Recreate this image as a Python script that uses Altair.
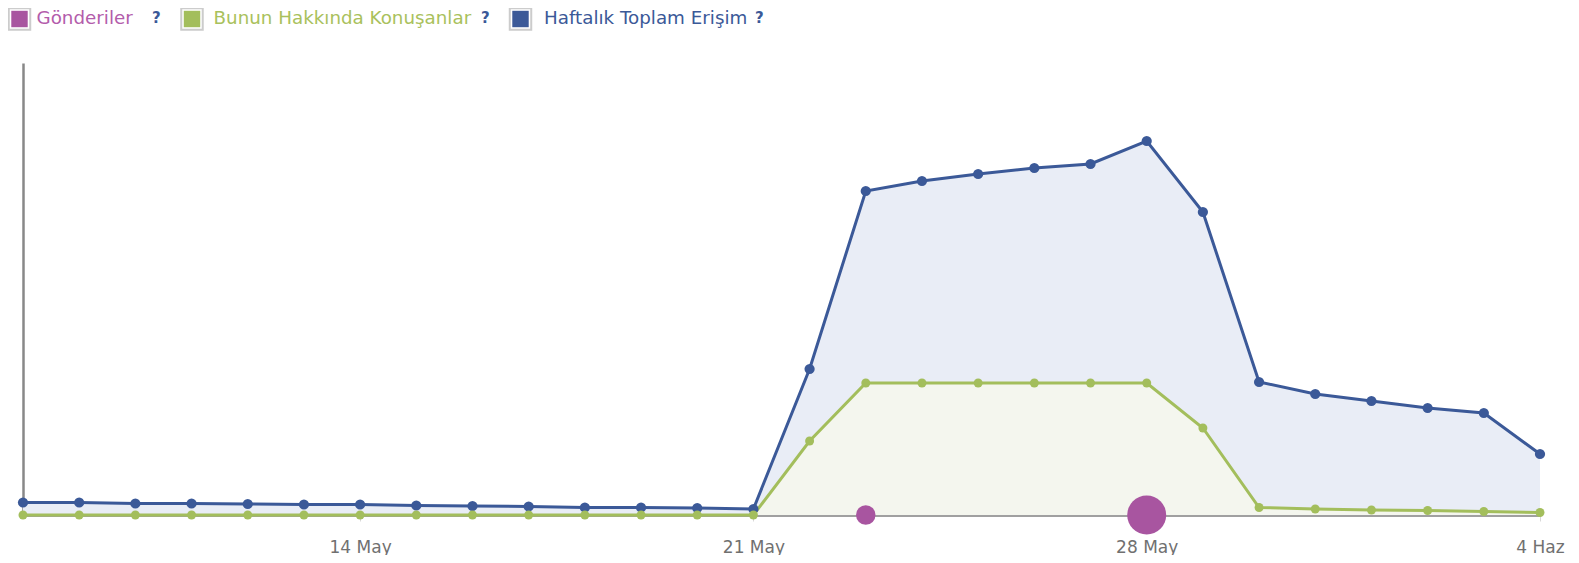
import altair as alt
import pandas as pd

# ---- data ----
dates = [
    "2012-05-08", "2012-05-09", "2012-05-10", "2012-05-11", "2012-05-12", "2012-05-13", "2012-05-14",
    "2012-05-15", "2012-05-16", "2012-05-17", "2012-05-18", "2012-05-19", "2012-05-20", "2012-05-21",
    "2012-05-22", "2012-05-23", "2012-05-24", "2012-05-25", "2012-05-26", "2012-05-27", "2012-05-28",
    "2012-05-29", "2012-05-30", "2012-05-31", "2012-06-01", "2012-06-02", "2012-06-03", "2012-06-04",
]
haftalik_erisim = [25, 25, 23, 23, 22, 21, 21, 19, 18, 17, 15, 15, 14, 12,
                   292, 648, 668, 682, 694, 702, 748, 606, 266, 242, 228, 214, 204, 122]
konusanlar = [0, 0, 0, 0, 0, 0, 0, 0, 0, 0, 0, 0, 0, 0,
              148, 264, 264, 264, 264, 264, 264, 174, 15, 12, 10, 9, 7, 5]
post_dates = ["2012-05-23", "2012-05-28"]
post_counts = [1, 4]

series_names = ["Gönderiler", "Bunun Hakkında Konuşanlar", "Haftalık Toplam Erişim"]
tick_dates = [(5, 14), (5, 21), (5, 28), (6, 4)]

PINK = "#a855a0"
GREEN = "#a3be5c"
BLUE = "#3b5998"
BLUE_FILL = "#e9edf6"
GREEN_FILL = "#f4f6ee"
FONT = "DejaVu Sans"

df = pd.DataFrame({"date": dates, "reach": haftalik_erisim, "talk": konusanlar})
posts = pd.DataFrame({"date": post_dates, "count": post_counts})

x_enc = alt.X(
    "date:T",
    scale=alt.Scale(
        type="utc",
        nice=False,
        domain=[alt.DateTime(year=2012, month=5, date=8, utc=True),
                alt.DateTime(year=2012, month=6, date=4, utc=True)],
    ),
    axis=alt.Axis(
        title=None,
        values=[alt.DateTime(year=2012, month=m, date=d, utc=True) for m, d in tick_dates],
        labelExpr="utcdate(datum.value) + ' ' + (utcmonth(datum.value) == 4 ? 'May' : 'Haz')",
        grid=False,
        domainColor="#a0a0a0",
        domainWidth=3,
        tickColor="#d8d8d8",
        tickSize=6,
        tickWidth=1,
        labelColor="#707070",
        labelFont=FONT,
        labelFontSize=17,
        labelPadding=18,
        labelFlush=False,
    ),
)

y_scale = alt.Scale(domain=[0, 904], nice=False, zero=True)
y_axis = alt.Axis(title=None, labels=False, ticks=False, grid=False,
                  domainColor="#888888", domainWidth=2.5)


def Y(field):
    return alt.Y(field + ":Q", scale=y_scale, axis=y_axis)


base = alt.Chart(df).encode(x=x_enc)

blue_area = base.mark_area(color=BLUE_FILL).encode(y=Y("reach"))
green_area = base.mark_area(color=GREEN_FILL).encode(y=Y("talk"))
blue_line = base.mark_line(color=BLUE, strokeWidth=3).encode(y=Y("reach"))
blue_pts = base.mark_circle(color=BLUE, opacity=1, size=105).encode(y=Y("reach"))
green_line = base.mark_line(color=GREEN, strokeWidth=3).encode(y=Y("talk"))
green_pts = base.mark_circle(color=GREEN, opacity=1, size=80).encode(y=Y("talk"))

post_pts = alt.Chart(posts).mark_circle(color=PINK, opacity=1).encode(
    x=x_enc,
    y=alt.datum(0, scale=y_scale, axis=y_axis),
    size=alt.Size("count:Q", scale=alt.Scale(domain=[0, 4], range=[0, 1520]), legend=None),
)

# ---- manual legend (coloured labels, as in the reference) ----
one = alt.Data(values=[{"k": 1}])
legend_layers = []
legend_specs = [
    (series_names[0], PINK, "#b35cab", -3.5, 13.5, 129),
    (series_names[1], GREEN, "#a9c15c", 169, 190.5, 458),
    (series_names[2], BLUE, BLUE, 497.5, 521, 732),
]
LY = -44
for name, col, txtcol, bx, tx, qx in legend_specs:
    legend_layers.append(
        alt.Chart(one).mark_square(fill="white", stroke="#cccccc", strokeWidth=2, size=462, opacity=1)
        .encode(x=alt.value(bx), y=alt.value(LY))
    )
    legend_layers.append(
        alt.Chart(one).mark_square(fill=col, size=270, opacity=1)
        .encode(x=alt.value(bx), y=alt.value(LY))
    )
    legend_layers.append(
        alt.Chart(one).mark_text(text=name, color=txtcol, font=FONT, fontSize=18.3,
                                 align="left", baseline="middle")
        .encode(x=alt.value(tx), y=alt.value(LY))
    )
    legend_layers.append(
        alt.Chart(one).mark_text(text="?", color=BLUE, font=FONT, fontSize=15, fontWeight="bold",
                                 align="left", baseline="alphabetic")
        .encode(x=alt.value(qx), y=alt.value(-40))
    )

chart = alt.layer(
    blue_area, green_area, blue_line, green_line, blue_pts, green_pts, post_pts, *legend_layers
).properties(
    width=1517,
    height=452,
    padding={"left": 15, "top": 55, "right": 30, "bottom": 40},
    autosize=alt.AutoSizeParams(type="none"),
).configure_view(stroke=None)

chart.save("out.html", embed_options={"renderer": "svg", "actions": False})
